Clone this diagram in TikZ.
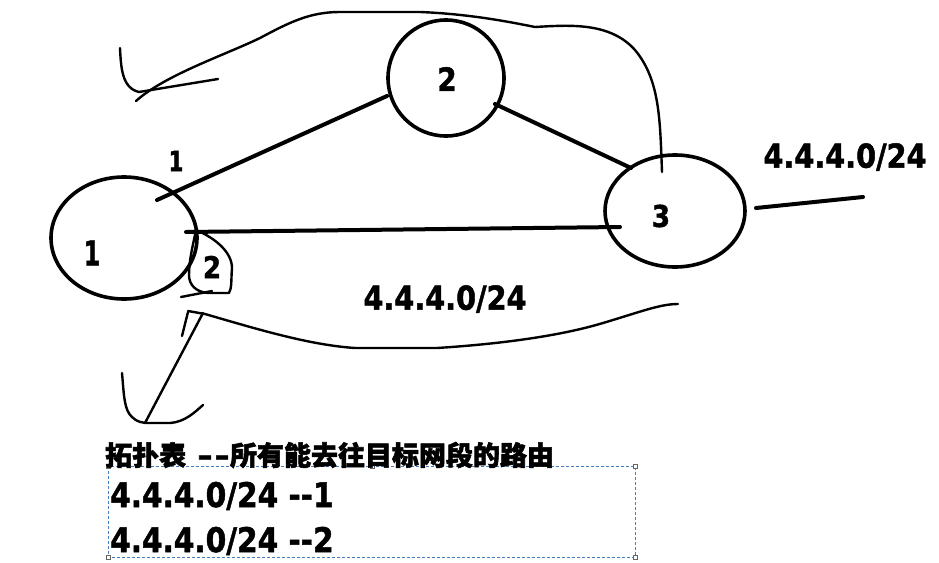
\documentclass[tikz,border=0pt]{standalone}
\usepackage{fontspec}
\usetikzlibrary{shapes.geometric}
\newfontfamily\dig[FakeBold=1.5]{DejaVu Sans}
\newfontfamily\cjk[BoldFeatures={FakeBold=2}]{Noto Sans CJK SC}
\definecolor{selblue}{RGB}{70,125,190}
\newcommand{\cond}[1]{\scalebox{0.87}[1]{#1}}
\begin{document}
\begin{tikzpicture}[x=1pt,y=-1pt,
  router/.style={draw,ellipse,line width=3.6pt,inner sep=0pt},
  link/.style={line width=4pt,line cap=round},
  hand/.style={line width=2.4pt,line cap=round,line join=round},
  lbl/.style={font=\dig\bfseries,inner sep=0pt},
  handle/.style={draw=black!60,fill=white,line width=0.6pt,minimum size=4pt,inner sep=0pt,rectangle}]
\useasboundingbox[fill=white] (0,0) rectangle (939,562);
% routers
\node[router,minimum width=146pt,minimum height=122pt] (r1) at (124,238) {};
\node[router,minimum width=116pt,minimum height=116pt] (r2) at (446,78) {};
\node[router,minimum width=140pt,minimum height=112pt] (r3) at (675,211) {};
\node[lbl,font=\dig\bfseries\fontsize{34}{34}\selectfont] (t1) at (92,253) {\scalebox{0.7}[1]{1}};
\node[lbl,font=\dig\bfseries\fontsize{32}{32}\selectfont] (t2) at (447,79) {\cond{2}};
\node[lbl,font=\dig\bfseries\fontsize{30}{30}\selectfont] (t3) at (661,216) {\cond{3}};
% link end points
\coordinate (a1) at (157,200);
\coordinate (a2) at (387,96);
\coordinate (b2) at (495,104);
\coordinate (b3) at (631,168);
\coordinate (c1) at (186,232);
\coordinate (c3) at (620,227);
\coordinate (d3) at (756,208);
\coordinate (d4) at (863,197);
\draw[link] (a1) -- (a2);
\draw[link] (b2) -- (b3);
\draw[link] (c1) -- (c3);
\draw[link] (d3) -- (d4);
% labels
\node[lbl,font=\dig\bfseries\fontsize{28}{28}\selectfont] (e1) at (176,161) {\scalebox{0.75}[1]{1}};
\node[lbl,font=\dig\bfseries\fontsize{33}{33}\selectfont] (n1) at (845,157) {\cond{4.4.4.0/24}};
\node[lbl,font=\dig\bfseries\fontsize{33}{33}\selectfont] (n2) at (445,299) {\cond{4.4.4.0/24}};
% small loop "2"
\node[lbl,font=\dig\bfseries\fontsize{30}{30}\selectfont] (e2) at (212,267) {\cond{2}};
\draw[hand] (196,230) .. controls (215,238) and (232,252) .. (232,268)
  .. controls (231,280) and (232,288) .. (229,293) -- (208,293)
  .. controls (196,292) and (189,285) .. (189,275)
  .. controls (189,260) and (193,245) .. (196,230);
\draw[hand] (181,297) -- (212,291);
% upper hand-drawn path
\coordinate (h1) at (120,48);
\coordinate (h2) at (218,79);
\coordinate (h3) at (662,172);
\draw[hand] (h1) .. controls (121,68) and (122,88) .. (139,92) -- (h2);
\draw[hand] (136,101) .. controls (165,75) and (225,55) .. (260,38)
  .. controls (290,22) and (310,12) .. (340,12)
  -- (420,12) .. controls (470,14) and (510,22) .. (535,27)
  .. controls (570,25) and (610,22) .. (635,50)
  .. controls (660,80) and (660,120) .. (h3);
% lower hand-drawn path
\coordinate (g1) at (678,304);
\coordinate (g2) at (203,405);
\draw[hand] (188,312) -- (182,336);
\draw[hand] (188,311) -- (205,314)
  .. controls (260,330) and (310,345) .. (355,348)
  -- (437,348) .. controls (500,344) and (560,336) .. (603,323)
  .. controls (640,312) and (660,304) .. (g1);
\draw[hand] (203,313) -- (145,423);
\draw[hand] (122,373) .. controls (124,395) and (124,410) .. (132,417)
  .. controls (137,422) and (142,423) .. (150,423) -- (170,423)
  .. controls (185,422) and (195,412) .. (g2);
% text box
\draw[selblue,line width=0.8pt,dash pattern=on 3pt off 2pt] (108,466) rectangle (635,557);
\foreach \p/\q in {108/466,372/466,635/466,108/557,635/557}
  \node[handle] at (\p,\q) {};
\node[anchor=west,inner sep=0pt] (title) at (105,455)
  {\fontsize{27}{27}\selectfont{\cjk\bfseries 拓扑表}\hspace{11pt}{\dig\bfseries\scalebox{1.4}[1]{-\kern1pt-}}\kern0pt{\cjk\bfseries 所有能去往目标网段的路由}};
\node[lbl,anchor=west,font=\dig\bfseries\fontsize{34}{34}\selectfont] (row1) at (110,496) {\cond{4.4.4.0/24 -{}-1}};
\node[lbl,anchor=west,font=\dig\bfseries\fontsize{34}{34}\selectfont] (row2) at (110,541) {\cond{4.4.4.0/24 -{}-2}};
\end{tikzpicture}
\end{document}
